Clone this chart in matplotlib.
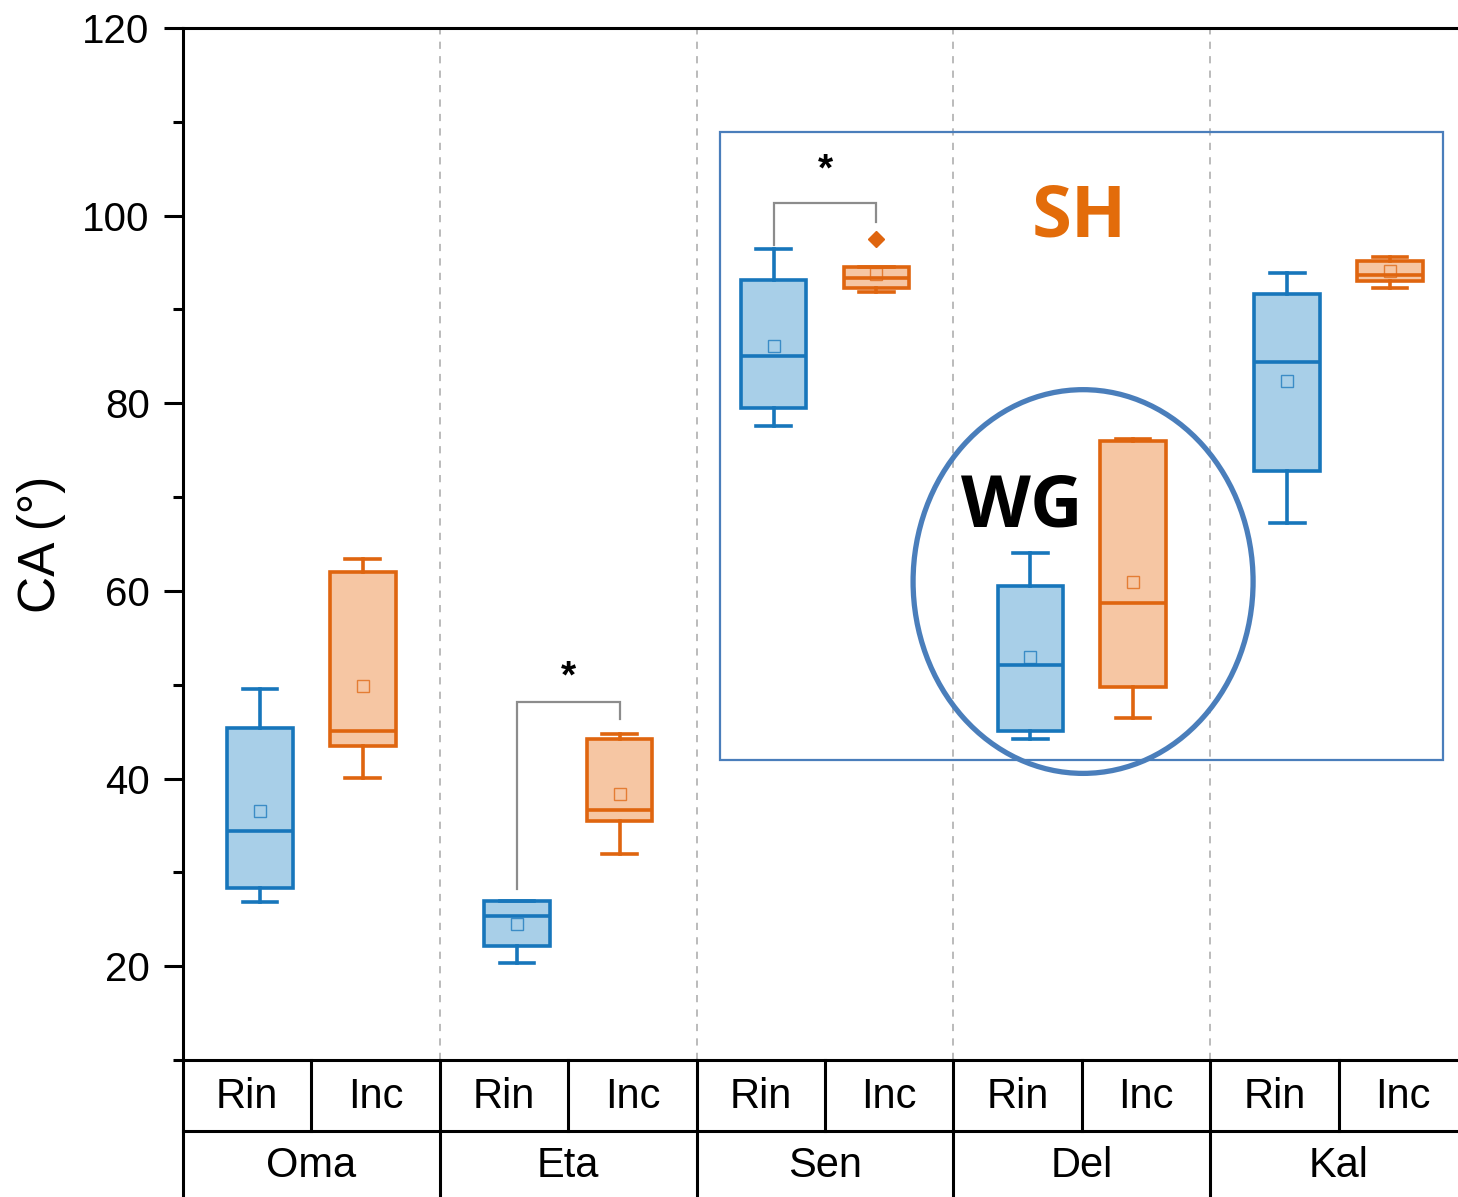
import matplotlib
matplotlib.use("Agg")
import matplotlib.pyplot as plt
from matplotlib.patches import Rectangle, Ellipse
from matplotlib.transforms import blended_transform_factory

plt.rcParams['font.family'] = ['Liberation Sans', 'DejaVu Sans']

# ---- data ----
groups = ['Oma', 'Eta', 'Sen', 'Del', 'Kal']
conditions = ['Rin', 'Inc']

rin_whislo = [26.8, 20.3, 77.6, 44.2, 67.2]
rin_q1 = [28.3, 22.2, 79.5, 45.1, 72.8]
rin_med = [34.4, 25.3, 85.0, 52.1, 84.4]
rin_q3 = [45.4, 26.9, 93.1, 60.5, 91.7]
rin_whishi = [49.5, 27.0, 96.4, 64.0, 93.9]
rin_mean = [36.5, 24.5, 86.1, 53.0, 82.4]

inc_whislo = [40.1, 32.0, 91.9, 46.5, 92.3]
inc_q1 = [43.5, 35.5, 92.3, 49.8, 93.0]
inc_med = [45.1, 36.7, 93.3, 58.7, 93.7]
inc_q3 = [62.0, 44.2, 94.5, 76.0, 95.2]
inc_whishi = [63.4, 44.8, 94.5, 76.2, 95.6]
inc_mean = [49.9, 38.4, 93.8, 61.0, 94.1]
inc_fliers = [[], [], [97.5], [], []]

# significance brackets: group index, left foot, right foot, top, star height
sig_groups = [1, 2]
sig_left = [28.2, 96.9]
sig_right = [46.3, 99.3]
sig_top = [48.2, 101.4]
sig_star = [50.8, 104.8]

blue_edge, blue_fill = '#1776bb', '#a8cfe8'
orange_edge, orange_fill = '#df650f', '#f6c6a3'
frame_blue = '#4a7ebb'

fig = plt.figure(figsize=(14.58, 11.97), dpi=100)
ax = fig.add_axes([183 / 1458, (1197 - 1060) / 1197, (1467 - 183) / 1458, (1060 - 28) / 1197])

rin_pos = [i + 0.3 for i in range(len(groups))]
inc_pos = [i + 0.7 for i in range(len(groups))]


def make_stats(whislo, q1, med, q3, whishi, mean, fliers=None):
    out = []
    for k in range(len(med)):
        out.append(dict(whislo=whislo[k], q1=q1[k], med=med[k], q3=q3[k],
                        whishi=whishi[k], mean=mean[k],
                        fliers=(fliers[k] if fliers else [])))
    return out


def draw(stats, pos, edge, fill):
    lw = 2.6
    ax.bxp(stats, positions=pos, widths=0.255, capwidths=0.135,
           patch_artist=True, showmeans=True, showfliers=True,
           boxprops=dict(facecolor=fill, edgecolor=edge, linewidth=lw),
           medianprops=dict(color=edge, linewidth=lw),
           whiskerprops=dict(color=edge, linewidth=lw),
           capprops=dict(color=edge, linewidth=lw),
           meanprops=dict(marker='s', markerfacecolor='none',
                          markeredgecolor=edge, markersize=8,
                          markeredgewidth=1.0, alpha=0.75),
           flierprops=dict(marker='D', markerfacecolor=edge,
                           markeredgecolor=edge, markersize=8),
           manage_ticks=False)


draw(make_stats(rin_whislo, rin_q1, rin_med, rin_q3, rin_whishi, rin_mean),
     rin_pos, blue_edge, blue_fill)
draw(make_stats(inc_whislo, inc_q1, inc_med, inc_q3, inc_whishi, inc_mean, inc_fliers),
     inc_pos, orange_edge, orange_fill)

# significance brackets
for g, yl, yr, yt, ys in zip(sig_groups, sig_left, sig_right, sig_top, sig_star):
    x0, x1 = g + 0.3, g + 0.7
    ax.plot([x0, x0, x1, x1], [yl, yt, yt, yr], color='#8c8c8c', lw=1.6,
            solid_joinstyle='miter')
    ax.text((x0 + x1) / 2, ys, '*', ha='center', va='center', fontsize=28,
            fontweight='bold', color='black')

# axes styling
ax.set_xlim(0, len(groups))
ax.set_ylim(10, 120)
ax.set_yticks([20, 40, 60, 80, 100, 120])
ax.set_yticks([10, 30, 50, 70, 90, 110], minor=True)
ax.set_xticks([])
ax.tick_params(axis='y', which='major', direction='out', length=14, width=2.2,
               labelsize=29, pad=10)
ax.tick_params(axis='y', which='minor', direction='out', length=7, width=2.2)
for side in ['left', 'top', 'bottom', 'right']:
    ax.spines[side].set_linewidth(2.2)
ax.set_ylabel('CA (°)', fontsize=37, labelpad=12)

# dashed separators between groups
for b in range(1, len(groups)):
    ax.axvline(b, color='#b5b5b5', lw=1.3, ls=(0, (4, 4)), zorder=0)

# category table under the axis
tr = blended_transform_factory(ax.transData, ax.transAxes)
row1_bottom = -71 / 1032
table_bottom = -0.2
for b in range(len(groups) + 1):
    ax.plot([b, b], [0, table_bottom], color='black', lw=2.2,
            transform=tr, clip_on=False)
for i in range(len(groups)):
    ax.plot([i + 0.5, i + 0.5], [0, row1_bottom], color='black', lw=2.2,
            transform=tr, clip_on=False)
    ax.text(i + 0.25, -0.036, conditions[0], transform=tr, ha='center',
            va='center', fontsize=30)
    ax.text(i + 0.75, -0.036, conditions[1], transform=tr, ha='center',
            va='center', fontsize=30)
    ax.text(i + 0.5, -0.103, groups[i], transform=tr, ha='center',
            va='center', fontsize=30)
ax.plot([0, len(groups)], [row1_bottom, row1_bottom], color='black', lw=2.2,
        transform=tr, clip_on=False)

# highlighted regions
ax.add_patch(Rectangle((2.091, 42.0), 4.907 - 2.091, 108.9 - 42.0,
                       fill=False, edgecolor=frame_blue, lw=1.6, zorder=1))
ax.add_patch(Ellipse((3.505, 61.0), 1.324, 40.9, fill=False,
                     edgecolor=frame_blue, lw=3.8, zorder=5))
ax.text(3.49, 99.8, 'SH', color='#e36c0a', fontsize=52, fontweight='bold',
        family=['Open Sans', 'DejaVu Sans'], ha='center', va='center')
ax.text(3.265, 68.9, 'WG', color='black', fontsize=52, fontweight='bold',
        family=['Open Sans', 'DejaVu Sans'], ha='center', va='center')

fig.savefig('out.png', dpi=100)
